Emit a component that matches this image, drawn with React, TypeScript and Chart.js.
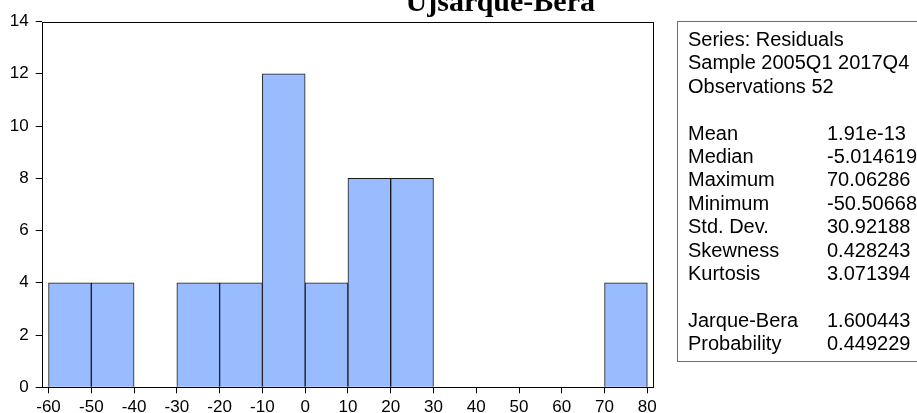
import { useEffect, useRef } from "react";
import { Chart, registerables } from "chart.js";

Chart.register(...registerables);

// ---- data ----
const binLower = [-60, -50, -40, -30, -20, -10, 0, 10, 20, 30, 40, 50, 60, 70];
const binWidth = 10;
const counts = [4, 4, 0, 4, 4, 12, 4, 8, 8, 0, 0, 0, 0, 4];
const xTicks = [-60, -50, -40, -30, -20, -10, 0, 10, 20, 30, 40, 50, 60, 70, 80];
const yTicks = [0, 2, 4, 6, 8, 10, 12, 14];
const titleText = "Ujsarque-Bera";
const statLabels = [
  "Series: Residuals",
  "Sample 2005Q1 2017Q4",
  "Observations 52",
  "",
  "Mean",
  "Median",
  "Maximum",
  "Minimum",
  "Std. Dev.",
  "Skewness",
  "Kurtosis",
  "",
  "Jarque-Bera",
  "Probability",
];
const statValues = [
  "",
  "",
  "",
  "",
  "1.91e-13",
  "-5.014619",
  "70.06286",
  "-50.50668",
  "30.92188",
  "0.428243",
  "3.071394",
  "",
  "1.600443",
  "0.449229",
];

const W = 917;
const H = 413;

const decorPlugin = {
  id: "decor",
  afterDraw(chart: any) {
    const ctx = chart.ctx as CanvasRenderingContext2D;
    const a = chart.chartArea;
    ctx.save();
    // plot frame
    ctx.strokeStyle = "#000";
    ctx.lineWidth = 1;
    const l = Math.round(a.left) + 0.5;
    const t = Math.round(a.top) + 0.5;
    const r = Math.round(a.right) + 0.5;
    const b = Math.round(a.bottom) + 0.5;
    ctx.strokeRect(l, t, r - l, b - t);

    // title (clipped at the top)
    ctx.fillStyle = "#000";
    ctx.font = "bold 30px 'Liberation Serif', 'Times New Roman', serif";
    ctx.textAlign = "right";
    ctx.textBaseline = "alphabetic";
    ctx.fillText(titleText, 595, 11);

    // stats box
    ctx.strokeStyle = "#6e6e6e";
    ctx.strokeRect(677.5, 21.5, 260, 340);
    ctx.font = "20px 'Liberation Sans', Arial, sans-serif";
    ctx.textBaseline = "middle";
    for (let i = 0; i < statLabels.length; i++) {
      const y = 40.5 + 23.4 * i;
      ctx.textAlign = "left";
      if (statLabels[i]) ctx.fillText(statLabels[i], 688, y);
      if (statValues[i]) ctx.fillText(statValues[i], 827, y);
    }
    ctx.restore();
  },
};

export default function App() {
  const ref = useRef<HTMLCanvasElement | null>(null);

  useEffect(() => {
    document.body.style.margin = "0";
    const canvas = ref.current;
    if (!canvas) return;
    const data = binLower.map((lo, i) => ({
      x: lo + binWidth / 2,
      y: counts[i] === 0 ? null : counts[i],
    }));
    const chart = new Chart(canvas, {
      type: "bar",
      data: {
        datasets: [
          {
            data: data as any,
            backgroundColor: "#99BBFF",
            borderColor: "#1a1a1a",
            borderWidth: 1,
            barPercentage: 1,
            categoryPercentage: 1,
          },
        ],
      },
      options: {
        animation: false,
        responsive: false,
        devicePixelRatio: 1,
        layout: { padding: { top: 21.5, right: 263.7, left: 0, bottom: 0 } },
        plugins: {
          legend: { display: false },
          tooltip: { enabled: false },
          title: { display: false },
        },
        scales: {
          x: {
            type: "linear",
            min: -61.6,
            max: 81.4,
            offset: false,
            grid: {
              offset: false,
              drawOnChartArea: false,
              drawTicks: true,
              tickLength: 6,
              color: "#000",
            },
            border: { display: false },
            ticks: {
              color: "#000",
              padding: 4,
              maxRotation: 0,
              autoSkip: false,
              font: { family: "'Liberation Sans', Arial, sans-serif", size: 17 },
            },
            afterBuildTicks: (scale: any) => {
              scale.ticks = xTicks.map((v) => ({ value: v }));
            },
            afterFit: (scale: any) => {
              scale.height = 25.7;
            },
          },
          y: {
            type: "linear",
            min: 0,
            max: 14,
            grid: {
              drawOnChartArea: false,
              drawTicks: true,
              tickLength: 6,
              color: "#000",
            },
            border: { display: false },
            ticks: {
              color: "#000",
              padding: 7,
              autoSkip: false,
              font: { family: "'Liberation Sans', Arial, sans-serif", size: 17 },
            },
            afterBuildTicks: (scale: any) => {
              scale.ticks = yTicks.map((v) => ({ value: v }));
            },
            afterFit: (scale: any) => {
              scale.width = 41.7;
            },
          },
        },
      },
      plugins: [decorPlugin],
    });
    return () => chart.destroy();
  }, []);

  return (
    <div style={{ width: W, height: H, background: "#fff" }}>
      <canvas ref={ref} width={W} height={H} style={{ display: "block" }} />
    </div>
  );
}
